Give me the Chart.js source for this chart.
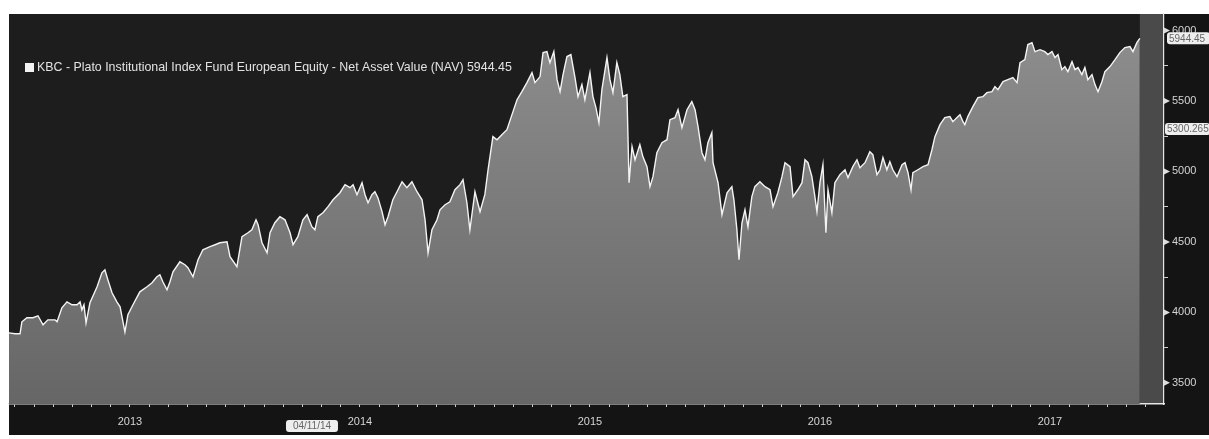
<!DOCTYPE html>
<html lang="en">
<head>
    <meta charset="UTF-8">
    <title>KBC - Plato Institutional Index Fund European Equity</title>
    <script src="https://cdn.jsdelivr.net/npm/chart.js"></script>
    <style>
        html, body { margin: 0; padding: 0; background: #ffffff; }
        #wrap { width: 1209px; height: 439px; }
    </style>
</head>
<body>
    <div id="wrap"><canvas id="navChart"></canvas></div>
    <script>
        // dates as decimal years, NAV values
        const years = [
            2012.974, 2013.000, 2013.022, 2013.030, 2013.052, 2013.078, 2013.100, 2013.122, 2013.143, 2013.174,
            2013.183, 2013.204, 2013.226, 2013.248, 2013.270, 2013.283, 2013.291, 2013.300, 2013.309, 2013.326,
            2013.357, 2013.378, 2013.391, 2013.404, 2013.422, 2013.443, 2013.457, 2013.478, 2013.491, 2013.513,
            2013.543, 2013.574, 2013.596, 2013.617, 2013.630, 2013.643, 2013.661, 2013.674, 2013.687, 2013.717,
            2013.739, 2013.752, 2013.774, 2013.796, 2013.817, 2013.848, 2013.870, 2013.891, 2013.922, 2013.935,
            2013.965, 2013.987, 2014.013, 2014.030, 2014.048, 2014.057, 2014.074, 2014.096, 2014.109, 2014.130,
            2014.152, 2014.174, 2014.196, 2014.209, 2014.230, 2014.252, 2014.270, 2014.291, 2014.304, 2014.317,
            2014.339, 2014.361, 2014.383, 2014.413, 2014.435, 2014.457, 2014.470, 2014.487, 2014.509, 2014.522,
            2014.535, 2014.552, 2014.565, 2014.578, 2014.596, 2014.609, 2014.622, 2014.643, 2014.661, 2014.683,
            2014.704, 2014.726, 2014.748, 2014.770, 2014.783, 2014.796, 2014.813, 2014.835, 2014.848, 2014.870,
            2014.891, 2014.913, 2014.935, 2014.948, 2014.965, 2014.978, 2015.000, 2015.022, 2015.043, 2015.057,
            2015.078, 2015.096, 2015.117, 2015.139, 2015.161, 2015.183, 2015.204, 2015.226, 2015.248, 2015.261,
            2015.283, 2015.296, 2015.313, 2015.326, 2015.343, 2015.357, 2015.370, 2015.383, 2015.400, 2015.417,
            2015.435, 2015.448, 2015.465, 2015.478, 2015.500, 2015.513, 2015.526, 2015.539, 2015.552, 2015.574,
            2015.587, 2015.600, 2015.617, 2015.630, 2015.643, 2015.661, 2015.670, 2015.683, 2015.696, 2015.717,
            2015.730, 2015.748, 2015.761, 2015.774, 2015.791, 2015.813, 2015.835, 2015.848, 2015.870, 2015.883,
            2015.900, 2015.922, 2015.943, 2015.957, 2015.970, 2015.987, 2016.000, 2016.013, 2016.030, 2016.035,
            2016.057, 2016.074, 2016.096, 2016.117, 2016.126, 2016.139, 2016.148, 2016.161, 2016.174, 2016.187,
            2016.204, 2016.217, 2016.239, 2016.261, 2016.283, 2016.296, 2016.317, 2016.335, 2016.348, 2016.370,
            2016.383, 2016.404, 2016.422, 2016.435, 2016.448, 2016.465, 2016.478, 2016.487, 2016.500, 2016.513,
            2016.526, 2016.535, 2016.552, 2016.565, 2016.587, 2016.609, 2016.622, 2016.643, 2016.661, 2016.674,
            2016.696, 2016.717, 2016.730, 2016.748, 2016.761, 2016.774, 2016.791, 2016.804, 2016.817, 2016.835,
            2016.857, 2016.870, 2016.883, 2016.896, 2016.904, 2016.926, 2016.948, 2016.970, 2016.987, 2017.000,
            2017.022, 2017.043, 2017.065, 2017.078, 2017.096, 2017.109, 2017.122, 2017.130, 2017.143, 2017.165,
            2017.187, 2017.209, 2017.226, 2017.248, 2017.261, 2017.274, 2017.296, 2017.317, 2017.339, 2017.357,
            2017.370, 2017.391, 2017.404, 2017.422, 2017.435, 2017.457, 2017.478, 2017.491, 2017.509, 2017.522,
            2017.535, 2017.552, 2017.565, 2017.578, 2017.596, 2017.609, 2017.622, 2017.639, 2017.652, 2017.665,
            2017.683, 2017.696, 2017.709, 2017.726, 2017.739, 2017.761, 2017.783, 2017.804, 2017.826, 2017.848,
            2017.861, 2017.878, 2017.891
        ];
        const nav = [
            3855, 3848, 3848, 3933, 3962, 3962, 3976, 3912, 3947, 3947,
            3933, 4033, 4075, 4054, 4054, 4075, 4018, 4054, 3926, 4068,
            4182, 4281, 4302, 4231, 4139, 4075, 4040, 3862, 3983, 4054,
            4146, 4182, 4210, 4253, 4267, 4217, 4160, 4217, 4288, 4359,
            4338, 4317, 4253, 4373, 4444, 4466, 4480, 4494, 4501, 4395,
            4324, 4537, 4565, 4586, 4657, 4622, 4494, 4423, 4565, 4636,
            4679, 4657, 4565, 4480, 4537, 4657, 4693, 4608, 4586, 4679,
            4707, 4750, 4799, 4849, 4906, 4885, 4906, 4835, 4920, 4835,
            4778, 4835, 4856, 4814, 4714, 4622, 4679, 4799, 4856, 4927,
            4885, 4927, 4856, 4799, 4657, 4423, 4586, 4657, 4728, 4764,
            4785, 4870, 4906, 4941, 4778, 4586, 4856, 4714, 4835, 5012,
            5247, 5225, 5261, 5296, 5403, 5509, 5566, 5630, 5701, 5630,
            5673, 5843, 5850, 5772, 5850, 5651, 5566, 5687, 5815, 5829,
            5666, 5531, 5616, 5509, 5701, 5531, 5453, 5346, 5580, 5808,
            5651, 5559, 5772, 5687, 5531, 5545, 4920, 5176, 5083, 5190,
            5105, 5034, 4892, 4963, 5133, 5204, 5225, 5367, 5382, 5438,
            5311, 5438, 5495, 5438, 5318, 5133, 5083, 5204, 5275, 5062,
            4920, 4693, 4849, 4892, 4799, 4586, 4373, 4636, 4728, 4608,
            4821, 4892, 4927, 4892, 4870, 4750, 4849, 4963, 5062, 5034,
            4821, 4870, 4920, 5083, 5062, 4963, 4821, 4714, 4920, 5048,
            4565, 4870, 4707, 4920, 4977, 5012, 4956, 5034, 5083, 5027,
            5062, 5140, 5119, 4977, 5012, 5098, 5012, 5069, 5012, 4963,
            5048, 5062, 4991, 4870, 4991, 5012, 5034, 5048, 5154, 5247,
            5332, 5382, 5389, 5353, 5382, 5403, 5353, 5332, 5389, 5460,
            5524, 5531, 5559, 5566, 5602, 5580, 5637, 5651, 5666, 5630,
            5772, 5793, 5900, 5914, 5850, 5864, 5850, 5829, 5850, 5808,
            5829, 5722, 5744, 5708, 5779, 5722, 5737, 5687, 5737, 5651,
            5687, 5616, 5566, 5637, 5708, 5744, 5793, 5843, 5879, 5886,
            5850, 5914, 5944.45
        ];
        const yearLabels = ['2013', '2014', '2015', '2016', '2017'];
        const yTicks = [3500, 3750, 4000, 4250, 4500, 4750, 5000, 5250, 5500, 5750, 6000];
        const seriesName = 'KBC - Plato Institutional Index Fund European Equity - Net Asset Value (NAV)';
        const cursorValue = 5300.265;
        const cursorDate = 2014.274;     // 04/11/14
        const cursorDateText = '04/11/14';

        const FONT = "'Liberation Sans', Arial, sans-serif";
        const points = years.map((x, i) => ({ x: x, y: nav[i] }));

        // monthly ticks on the time axis, year names in the middle of each year
        const monthTicks = [];
        for (let y = 2013; y <= 2017; y++) {
            for (let m = 0; m < 12; m++) monthTicks.push({ value: y + m / 12 });
        }

        const backdrop = {
            id: 'backdrop',
            beforeDraw(chart) {
                const c = chart.ctx, a = chart.chartArea;
                c.save();
                c.fillStyle = '#ffffff';
                c.fillRect(0, 0, chart.width, chart.height);
                c.fillStyle = '#141414';
                c.fillRect(a.left, a.top, chart.width - a.left, chart.height - a.top - 4);
                c.fillStyle = '#1d1d1d';
                c.fillRect(a.left, a.top, a.right - a.left, a.bottom - a.top);
                // empty band after the last price
                const xs = chart.scales.x;
                const xLast = xs.getPixelForValue(years[years.length - 1]);
                c.fillStyle = '#4a4a4a';
                c.fillRect(xLast, a.top, a.right - xLast, a.bottom - a.top);
                c.restore();
            }
        };

        function tag(c, text, cx, cy, w, align) {
            c.fillStyle = '#eeeeee';
            c.beginPath();
            c.roundRect(cx, cy - 6, w, 12, 3);
            c.fill();
            c.fillStyle = '#666666';
            c.font = '10px ' + FONT;
            c.textBaseline = 'middle';
            c.textAlign = align;
            c.fillText(text, align === 'center' ? cx + w / 2 : cx + 2, cy + 0.5);
        }

        const overlay = {
            id: 'overlay',
            afterDraw(chart) {
                const c = chart.ctx, a = chart.chartArea;
                const ys = chart.scales.y, xs = chart.scales.x;
                c.save();
                // triangles on the major price ticks
                c.fillStyle = '#dddddd';
                yTicks.filter(v => v % 500 === 0).forEach(v => {
                    const py = ys.getPixelForValue(v);
                    c.beginPath();
                    c.moveTo(a.right, py - 3);
                    c.lineTo(a.right + 6, py);
                    c.lineTo(a.right, py + 3);
                    c.closePath();
                    c.fill();
                });
                // legend inside the plot
                const last = nav[nav.length - 1];
                c.fillStyle = '#f2f2f2';
                c.fillRect(a.left + 16, a.top + 49, 9, 9);
                c.font = '12.4px ' + FONT;
                c.fillStyle = '#e2e2e2';
                c.textBaseline = 'middle';
                c.textAlign = 'left';
                c.fillText(seriesName + ' ' + last.toFixed(2), a.left + 28, a.top + 54);
                // price tags on the right axis
                tag(c, cursorValue.toFixed(3), a.right + 1, ys.getPixelForValue(cursorValue), 45, 'left');
                tag(c, last.toFixed(2), a.right + 3, ys.getPixelForValue(last), 43, 'left');
                // date tag on the time axis
                tag(c, cursorDateText, xs.getPixelForValue(cursorDate) - 22, a.bottom + 22, 52, 'center');
                c.restore();
            }
        };

        new Chart(document.getElementById('navChart'), {
            type: 'line',
            data: {
                datasets: [{
                    label: seriesName,
                    data: points,
                    borderColor: '#f4f4f4',
                    borderWidth: 1.4,
                    pointRadius: 0,
                    tension: 0,
                    fill: 'start',
                    backgroundColor: (ctx) => {
                        const area = ctx.chart.chartArea;
                        if (!area) return '#7a7a7a';
                        const g = ctx.chart.ctx.createLinearGradient(0, area.top, 0, area.bottom);
                        g.addColorStop(0, '#8f8f8f');
                        g.addColorStop(1, '#666666');
                        return g;
                    }
                }]
            },
            options: {
                responsive: true,
                maintainAspectRatio: false,
                animation: false,
                layout: { padding: { left: 9, top: 14, right: 0, bottom: 0 } },
                plugins: { legend: { display: false }, tooltip: { enabled: false } },
                scales: {
                    x: {
                        type: 'linear',
                        bounds: 'data',
                        min: 2012.974,
                        max: 2017.996,
                        afterBuildTicks: (s) => { s.ticks = monthTicks.map(t => ({ value: t.value })); },
                        afterFit: (s) => { s.height = 35; },
                        grid: { drawOnChartArea: false, drawTicks: true, tickLength: 3, color: '#cfcfcf' },
                        border: { display: true, color: '#e6e6e6', width: 1.5 },
                        ticks: {
                            autoSkip: false,
                            maxRotation: 0,
                            padding: 8,
                            color: '#d4d4d4',
                            font: { family: FONT, size: 11 },
                            callback: (v) => {
                                const y = Math.floor(v + 1e-6);
                                const m = Math.round((v - y) * 12);
                                return m === 6 ? yearLabels[y - 2013] : '';
                            }
                        }
                    },
                    y: {
                        position: 'right',
                        min: 3350,
                        max: 6117,
                        bounds: 'data',
                        afterBuildTicks: (s) => { s.ticks = yTicks.map(v => ({ value: v })); },
                        afterFit: (s) => { s.width = 45; },
                        grid: { drawOnChartArea: false, drawTicks: true, tickLength: 4, color: '#cfcfcf' },
                        border: { display: true, color: '#e6e6e6', width: 1.2 },
                        ticks: {
                            padding: 4,
                            color: '#d4d4d4',
                            font: { family: FONT, size: 11 },
                            callback: (v) => (v % 500 === 0 ? String(v) : '')
                        }
                    }
                }
            },
            plugins: [backdrop, overlay]
        });
    </script>
</body>
</html>
